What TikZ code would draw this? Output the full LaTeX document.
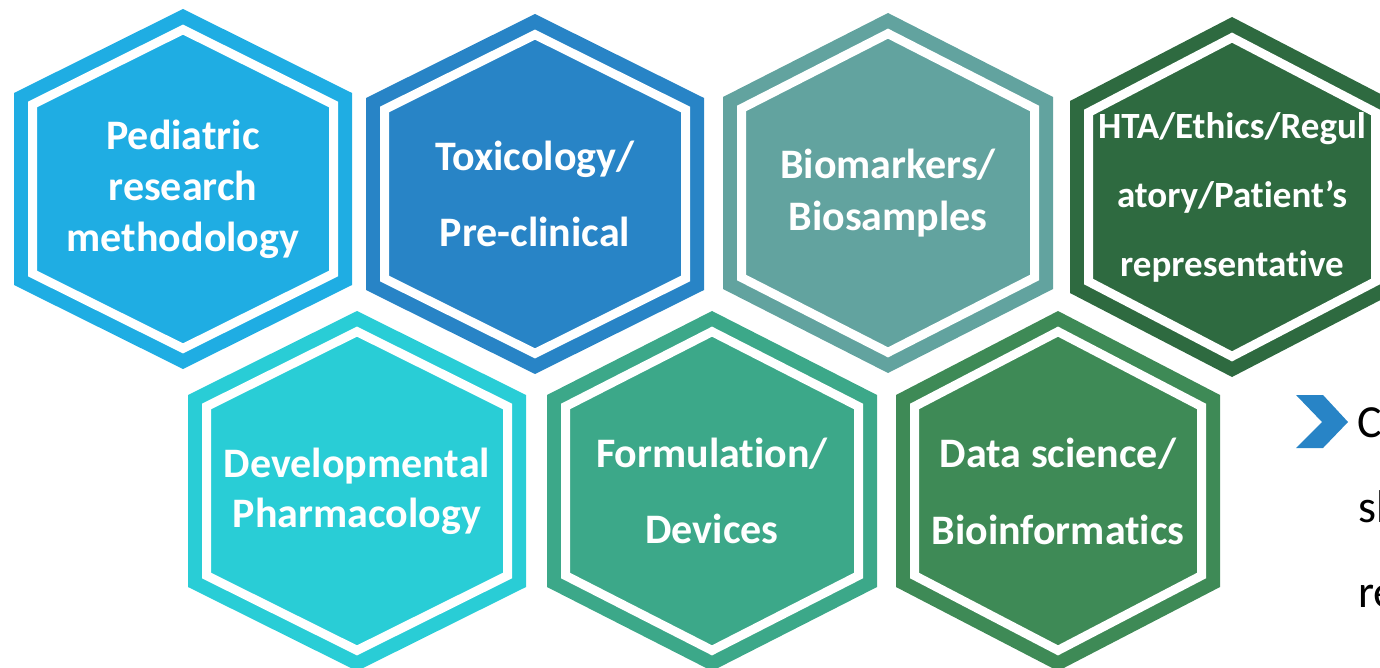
\documentclass[tikz,border=0pt]{standalone}
\usepackage{fontspec}
\setmainfont{Carlito}[Ligatures=NoCommon]
\definecolor{pedblue}{HTML}{1FADE3}
\definecolor{toxblue}{HTML}{2884C6}
\definecolor{biogrey}{HTML}{62A39F}
\definecolor{htagreen}{HTML}{2E6A40}
\definecolor{devcyan}{HTML}{29CDD6}
\definecolor{formgreen}{HTML}{3CA889}
\definecolor{datagreen}{HTML}{3E8A56}
\tikzset{hextext/.style={text=white, align=center, inner sep=0pt}}
\begin{document}
\begin{tikzpicture}[x=0.5pt, y=-0.5pt, line join=miter]
\useasboundingbox (0,0) rectangle (1380,668);
\def\hy{180} \def\sy{96} \def\dr{18.5} % half height, half side, ring offset
\foreach \n/\cx/\cy/\w/\col/\fs/\ls/\txt in {
  ped/183/189/169/pedblue/21/25.5/{Pediatric\\research\\methodology},
  tox/535/194/169/toxblue/21/38/{Toxicology/\\Pre-clinical},
  bio/888/193/165/biogrey/21/26/{Biomarkers/\\Biosamples},
  hta/1232/197/162/htagreen/18.5/34.5/{HTA/Ethics/Regul\\atory/Patient’s\\representative},
  dev/357/491/169/devcyan/21/25/{Developmental\\Pharmacology},
  form/712/491/165/formgreen/21/38/{Formulation/\\Devices},
  data/1058/491/162/datagreen/21/38.5/{Data science/\\Bioinformatics}}{
  \fill[\col] (\cx,\cy-\hy) -- (\cx+\w,\cy-\sy) -- (\cx+\w,\cy+\sy) -- (\cx,\cy+\hy) -- (\cx-\w,\cy+\sy) -- (\cx-\w,\cy-\sy) -- cycle;
  \draw[white, line width=4.5pt] (\cx,\cy-\hy+1.116*\dr) -- (\cx+\w-\dr,\cy-\sy+0.62*\dr) -- (\cx+\w-\dr,\cy+\sy-0.62*\dr) -- (\cx,\cy+\hy-1.116*\dr) -- (\cx-\w+\dr,\cy+\sy-0.62*\dr) -- (\cx-\w+\dr,\cy-\sy+0.62*\dr) -- cycle;
  \node[hextext, font=\bfseries\fontsize{\fs}{\ls}\selectfont] (\n) at (\cx,\cy) {\txt};
}
% chevron and cut-off text on the right
\fill[toxblue] (1296,395) -- (1323,395) -- (1348,422) -- (1323,448) -- (1296,448) -- (1322,422) -- cycle;
\node[anchor=base west, inner sep=0pt, font=\fontsize{23}{28}\selectfont] (c1) at (1357,437) {C};
\node[anchor=base west, inner sep=0pt, font=\fontsize{23}{28}\selectfont] (c2) at (1358,522) {sh};
\node[anchor=base west, inner sep=0pt, font=\fontsize{23}{28}\selectfont] (c3) at (1358,607) {re};
\end{tikzpicture}
\end{document}
